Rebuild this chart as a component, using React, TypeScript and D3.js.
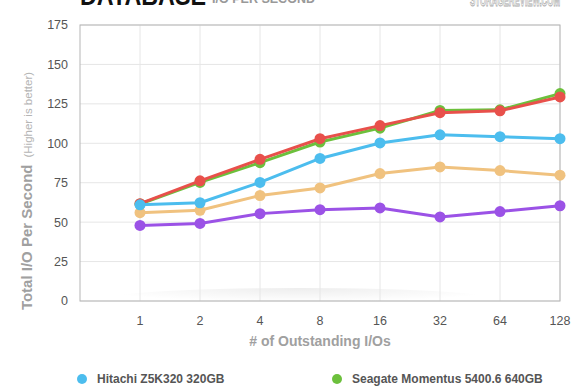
import React from "react";
import * as d3 from "d3";

const categories = ["1", "2", "4", "8", "16", "32", "64", "128"];
const yTicks = [0, 25, 50, 75, 100, 125, 150, 175];

const seriesNames = ["Purple drive", "Orange drive", "Seagate Momentus 5400.6 640GB", "Red drive", "Hitachi Z5K320 320GB"];
const seriesColors = ["#9b52e6", "#f0c27f", "#6cc03c", "#e8504b", "#4cbdee"];
const purpleValues = [47.9, 49.2, 55.4, 57.9, 59, 53.3, 56.7, 60.4];
const orangeValues = [56, 57.5, 66.9, 71.7, 80.8, 85, 82.7, 79.8];
const greenValues = [61.5, 75.2, 87.7, 100.8, 109.6, 120.8, 121.2, 131.5];
const redValues = [61.7, 76.2, 89.8, 102.9, 111.2, 119.4, 120.6, 129.4];
const blueValues = [61, 62.3, 75.2, 90.4, 100.2, 105.4, 104.2, 102.9];
const seriesValues = [purpleValues, orangeValues, greenValues, redValues, blueValues];

const legendItems = [
  { name: "Hitachi Z5K320 320GB", color: "#4cbdee" },
  { name: "Seagate Momentus 5400.6 640GB", color: "#6cc03c" },
];

const FONT = "'Liberation Sans', Arial, Helvetica, sans-serif";

export default function App() {
  const W = 580, H = 390;
  const left = 80, right = 560, top = 25, bottom = 301;
  const x = d3.scalePoint<string>().domain(["", ...categories]).range([left, right]);
  const y = d3.scaleLinear().domain([0, 175]).range([bottom, top]);
  const line = d3.line<number>().x((_, i) => x(categories[i])!).y((d) => y(d));

  return (
    <svg width={W} height={H} style={{ position: "absolute", left: 0, top: 0, background: "#fff" }}>
      <defs>
        <radialGradient id="shadow" cx="0.5" cy="0" r="0.5" fx="0.5" fy="0">
          <stop offset="0%" stopColor="#000" stopOpacity={0.07} />
          <stop offset="100%" stopColor="#000" stopOpacity={0} />
        </radialGradient>
      </defs>
      {/* title */}
      <text x={80} y={5} fontFamily={FONT} fontWeight="bold" fontSize={27} fill="#111" textLength={126} lengthAdjust="spacingAndGlyphs">DATABASE</text>
      <text x={212} y={3} fontFamily={FONT} fontWeight="bold" fontSize={12} fill="#999" textLength={103} lengthAdjust="spacingAndGlyphs">I/O PER SECOND</text>
      <text x={470} y={6} fontFamily={FONT} fontWeight="bold" fontSize={18} fill="#fff" stroke="#aaa" strokeWidth={1}
        textLength={90} lengthAdjust="spacingAndGlyphs">STORAGEREVIEW.COM</text>

      {/* shadow under plot */}
      <ellipse cx={300} cy={bottom + 1} rx={210} ry={14} fill="url(#shadow)" />

      {/* grid */}
      {yTicks.map((t) => (
        <line key={"h" + t} x1={left} x2={right} y1={y(t)} y2={y(t)} stroke="#e6e6e6" strokeWidth={1} />
      ))}
      {categories.map((c) => (
        <line key={"v" + c} x1={x(c)} x2={x(c)} y1={top} y2={bottom} stroke="#e6e6e6" strokeWidth={1} />
      ))}
      <rect x={left} y={top} width={right - left} height={bottom - top} fill="none" stroke="#b5b5b5" strokeWidth={1} />

      {/* y tick labels */}
      {yTicks.map((t) => (
        <text key={"yl" + t} x={68} y={y(t)} dy="0.35em" textAnchor="end" fontFamily={FONT} fontSize={12.5} fill="#555">{t}</text>
      ))}
      {/* x tick labels */}
      {categories.map((c) => (
        <text key={"xl" + c} x={x(c)} y={321} dy="0.35em" textAnchor="middle" fontFamily={FONT} fontSize={12.5} fill="#555">{c}</text>
      ))}

      {/* axis titles */}
      <text transform={`translate(32,191) rotate(-90)`} textAnchor="middle" fontFamily={FONT} fill="#a0a0a0">
        <tspan fontWeight="bold" fontSize={15}>Total I/O Per Second</tspan>
        <tspan fontSize={11.5} fill="#b5b5b5" dx={7}>(Higher is better)</tspan>
      </text>
      <text x={320} y={341} dy="0.35em" textAnchor="middle" fontFamily={FONT} fontWeight="bold" fontSize={14} fill="#a0a0a0"># of Outstanding I/Os</text>

      {/* series */}
      {seriesValues.map((vals, si) => (
        <g key={seriesNames[si]}>
          <path d={line(vals) || ""} fill="none" stroke={seriesColors[si]} strokeWidth={3} strokeLinejoin="round" />
          {vals.map((v, i) => (
            <circle key={i} cx={x(categories[i])} cy={y(v)} r={5.5} fill={seriesColors[si]} />
          ))}
        </g>
      ))}

      {/* legend */}
      {legendItems.map((it, i) => {
        const lx = i === 0 ? 82 : 337;
        return (
          <g key={it.name}>
            <circle cx={lx} cy={379} r={5} fill={it.color} />
            <text x={lx + 15} y={379} dy="0.35em" fontFamily={FONT} fontWeight="bold" fontSize={12} fill="#555">{it.name}</text>
          </g>
        );
      })}
    </svg>
  );
}
